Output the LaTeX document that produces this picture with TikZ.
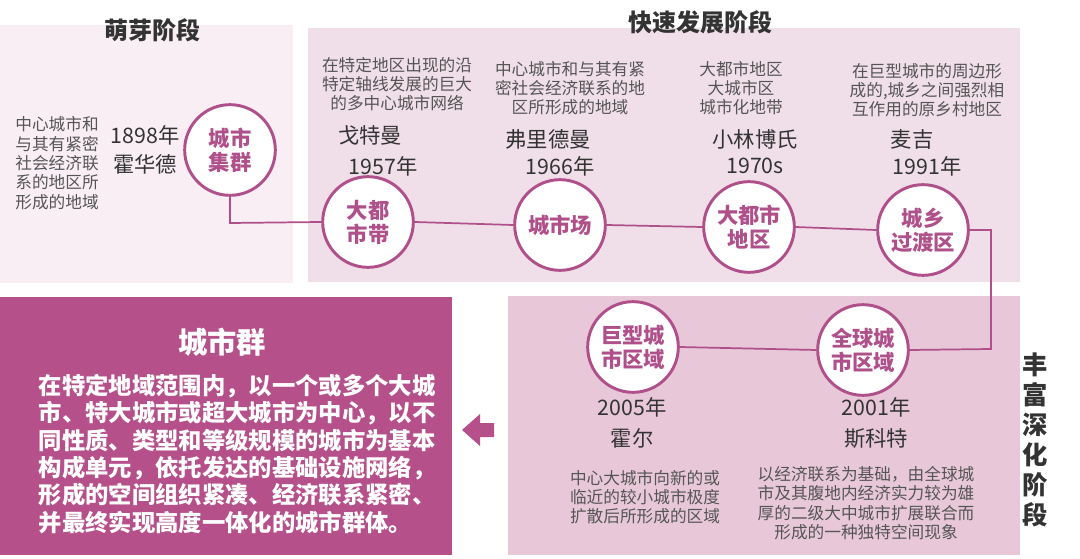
\documentclass[tikz,border=0pt]{standalone}
\usepackage{fontspec}
\setmainfont{Noto Sans CJK SC}
\newcommand\cjkb{\bfseries}
\begin{document}
\begin{tikzpicture}[x=0.75pt,y=-0.75pt,
  circ/.style={circle,draw=M,line width=2.2pt,fill=white,minimum size=68pt,inner sep=0pt,align=center,text=M,font=\cjkb\fontsize{16}{18}\selectfont},
  desc/.style={align=center,text=G,font=\fontsize{12.5}{14.5}\selectfont},
  nm/.style={align=center,text=D,font=\fontsize{16}{18}\selectfont},
  ttl/.style={text=D,font=\cjkb\fontsize{18}{20}\selectfont}]
\definecolor{M}{HTML}{B0508A}
\definecolor{G}{HTML}{555555}
\definecolor{D}{HTML}{333333}
\definecolor{P1}{HTML}{F9EEF4}
\definecolor{P2}{HTML}{F0DFE9}
\definecolor{P3}{HTML}{E8C8D8}
\definecolor{BX}{HTML}{B5508A}
\useasboundingbox (0,0) rectangle (1080,559);
\fill[P1] (0,25) rectangle (293,283);
\fill[P2] (308,28) rectangle (1020,282);
\fill[P3] (508,296) rectangle (1020,555);
\fill[BX] (0,297) rectangle (452,555);
\node[ttl] (t1) at (152,30) {萌芽阶段};
\node[ttl] (t2) at (700,22) {快速发展阶段};
\node[ttl,align=center,font=\cjkb\fontsize{19}{22.5}\selectfont] (t3) at (1035,440) {丰\\富\\深\\化\\阶\\段};
\coordinate (c0) at (230,223);
\coordinate (r1) at (991,230);
\coordinate (r2) at (991,349);
\node[circ] (a) at (230,150) {城市\\集群};
\node[circ] (b) at (368,222) {大都\\市带};
\node[circ] (c) at (560,225) {城市场};
\node[circ] (d) at (749,227) {大都市\\地区};
\node[circ] (e) at (923,230) {城乡\\过渡区};
\node[circ] (f) at (633,347) {巨型城\\市区域};
\node[circ] (g) at (863,350) {全球城\\市区域};
\draw[M,line width=1.3pt] (a.south) -- (c0) -- (b.west);
\draw[M,line width=1.3pt] (b.east) -- (c.west) (c.east) -- (d.west) (d.east) -- (e.west);
\draw[M,line width=1.3pt] (e.east) -- (r1) -- (r2) -- (g.east);
\draw[M,line width=1.3pt] (g.west) -- (f.east);
\node[desc] (la) at (57,163) {中心城市和\\与其有紧密\\社会经济联\\系的地区所\\形成的地域};
\node[nm,font=\fontsize{16}{22}\selectfont] (ln) at (145,150) {1898年\\霍华德};
\node[desc] (bd) at (397,84) {在特定地区出现的沿\\特定轴线发展的巨大\\的多中心城市网络};
\node[nm] (bn) at (370,135) {戈特曼};
\node[nm] (by) at (383,166) {1957年};
\node[desc] (cd) at (570,88) {中心城市和与其有紧\\密社会经济联系的地\\区所形成的地域};
\node[nm] (cn) at (548,139) {弗里德曼};
\node[nm] (cy) at (560,166) {1966年};
\node[desc] (dd) at (741,88) {大都市地区\\大城市区\\城市化地带};
\node[nm] (dn) at (755,139) {小林博氏};
\node[nm] (dy) at (755,166) {1970s};
\node[desc] (ed) at (927,90) {在巨型城市的周边形\\成的,城乡之间强烈相\\互作用的原乡村地区};
\node[nm] (en) at (912,139) {麦吉};
\node[nm] (ey) at (927,166) {1991年};
\node[nm,font=\fontsize{16}{23}\selectfont] (fn) at (632,423) {2005年\\霍尔};
\node[desc] (fd) at (645,497) {中心大城市向新的或\\临近的较小城市极度\\扩散后所形成的区域};
\node[desc] (gn0) at (0,0) {};
\node[nm,font=\fontsize{16}{23}\selectfont] (gn) at (876,423) {2001年\\斯科特};
\node[desc] (gd) at (866,503) {以经济联系为基础，由全球城\\市及其腹地内经济实力较为雄\\厚的二级大中城市扩展联合而\\形成的一种独特空间现象};
\node[text=white,font=\cjkb\fontsize{22}{24}\selectfont] (bt) at (222,342) {城市群};
\node[text=white,align=left,font=\cjkb\fontsize{17.5}{20.5}\selectfont] (bb) at (237,454) {在特定地域范围内，以一个或多个大城\\市、特大城市或超大城市为中心，以不\\同性质、类型和等级规模的城市为基本\\构成单元，依托发达的基础设施网络，\\形成的空间组织紧凑、经济联系紧密、\\并最终实现高度一体化的城市群体。};
\fill[BX] (462,430) -- (480,414) -- (480,423) -- (494,423) -- (494,437) -- (480,437) -- (480,446) -- cycle;
\end{tikzpicture}
\end{document}
